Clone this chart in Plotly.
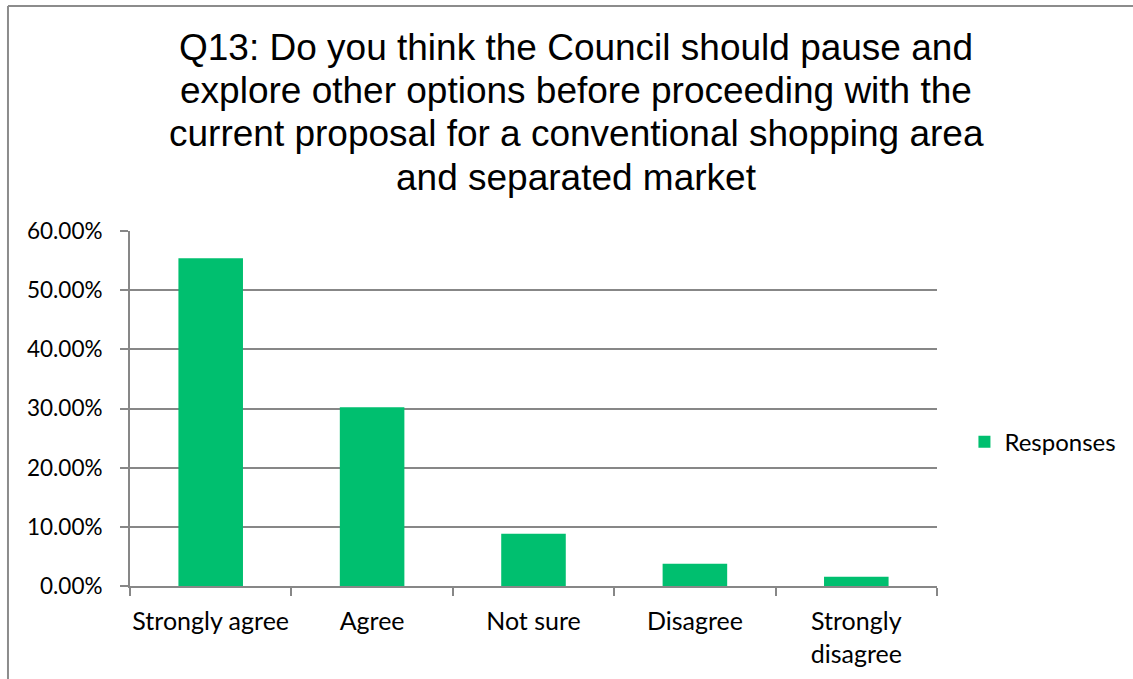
import plotly.graph_objects as go

# Survey answers and their share of responses (percent)
categories = ["Strongly agree", "Agree", "Not sure", "Disagree", "Strongly<br>disagree"]
responses = [55.4, 30.2, 8.84, 3.77, 1.57]
y_ticks = [0, 10, 20, 30, 40, 50, 60]
y_tick_labels = ["0.00%", "10.00%", "20.00%", "30.00%", "40.00%", "50.00%", "60.00%"]

title_lines = [
    "Q13: Do you think the Council should pause and",
    "explore other options before proceeding with the",
    "current proposal for a conventional shopping area",
    "and separated market",
]

GREEN = "#00BF6F"
GRID = "#878787"
SANS = "Lato, Carlito, Calibri, sans-serif"
Y_FONT = dict(family=SANS, size=22.5, color="#000000")
X_FONT = dict(family=SANS, size=25, color="#000000")
LEGEND_FONT = dict(family=SANS, size=24, color="#000000")

# plot area geometry in pixels, used to place the title lines in paper units
PLOT_TOP, PLOT_BOTTOM = 231, 586
PLOT_H = PLOT_BOTTOM - PLOT_TOP
title_centers_px = [47, 90.5, 134, 177.5]

fig = go.Figure()
fig.add_trace(go.Bar(
    x=categories,
    y=responses,
    name="Responses",
    marker=dict(color=GREEN, line=dict(width=0)),
    showlegend=True,
))

annotations = [
    dict(text=line, xref="paper", yref="paper",
         x=0.553, y=(PLOT_BOTTOM - cy) / PLOT_H,
         xanchor="center", yanchor="middle", showarrow=False,
         font=dict(family="Liberation Sans, Arial, sans-serif", size=37, color="#000000"))
    for line, cy in zip(title_lines, title_centers_px)
]

fig.update_layout(
    width=1133,
    height=679,
    margin=dict(l=130, r=196, t=231, b=93, autoexpand=False),
    paper_bgcolor="white",
    plot_bgcolor="white",
    bargap=0.6,
    font=X_FONT,
    annotations=annotations,
    legend=dict(
        x=1.034, xanchor="left",
        y=0.405, yanchor="middle",
        font=LEGEND_FONT,
        itemwidth=30,
        bgcolor="rgba(0,0,0,0)",
    ),
    xaxis=dict(
        type="category",
        showgrid=False,
        showline=True, linecolor=GRID, linewidth=2,
        ticks="outside", tickson="boundaries", ticklen=8, tickcolor=GRID, tickwidth=2,
        tickfont=X_FONT,
        tickangle=0,
        automargin=False,
        ticklabelstandoff=12,
        range=[-0.5, 4.5],
    ),
    yaxis=dict(
        range=[0, 60],
        tickvals=y_ticks,
        ticktext=y_tick_labels,
        showgrid=True, gridcolor=GRID, gridwidth=2,
        zeroline=False,
        showline=True, linecolor=GRID, linewidth=2,
        ticks="outside", ticklen=8, tickcolor=GRID, tickwidth=2,
        tickfont=Y_FONT,
        automargin=False,
        ticklabelstandoff=13,
    ),
    shapes=[
        # chart frame (left and top edges)
        dict(type="line", xref="paper", yref="paper",
             x0=-0.1512, x1=-0.1512, y0=1.634, y1=-0.35,
             line=dict(color="#8c8c8c", width=2)),
        dict(type="line", xref="paper", yref="paper",
             x0=-0.1512, x1=1.35, y0=1.634, y1=1.634,
             line=dict(color="#8c8c8c", width=2)),
    ],
)

fig.write_html("out.html")
